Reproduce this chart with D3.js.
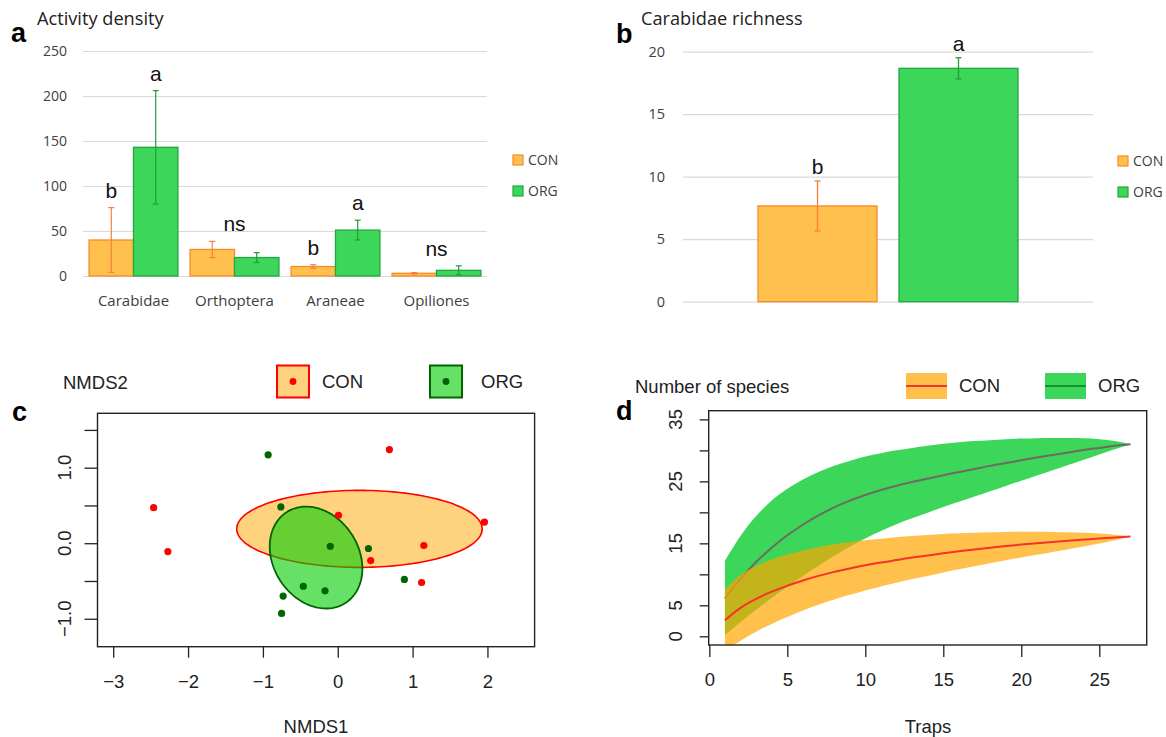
<!DOCTYPE html>
<html>
<head>
<meta charset="utf-8">
<script src="https://cdn.jsdelivr.net/npm/d3@7"></script>
<style>
  body { margin: 0; background: #fff; }
  svg { display: block; }
</style>
</head>
<body>
<svg id="fig" width="1166" height="737"></svg>
<script>
// ---------------- data ----------------
// a: activity density per taxon (mean and standard error)
const taxa = ["Carabidae", "Orthoptera", "Araneae", "Opiliones"];
const systems = ["CON", "ORG"];
const densityCON = [40, 29.5, 10.5, 3];
const densityCONse = [36, 9, 2, 0.8];
const densityORG = [143, 20.5, 51, 6.3];
const densityORGse = [63, 5.5, 11, 5];
const lettersCON = ["b", null, "b", null];
const lettersORG = ["a", null, "a", null];
const lettersShared = [null, "ns", null, "ns"];
const densityTicks = [0, 50, 100, 150, 200, 250];

// b: Carabidae species richness
const richnessMean = [7.66, 18.67];
const richnessSE = [2.0, 0.85];
const richnessLetters = ["b", "a"];
const richnessTicks = [0, 5, 10, 15, 20];

// c: NMDS ordination scores
const conNMDS1 = [-2.46, -2.27, 0.69, 0.01, 1.96, 1.15, 0.44, 1.12];
const conNMDS2 = [0.47, -0.11, 1.24, 0.37, 0.28, -0.03, -0.23, -0.52];
const orgNMDS1 = [-0.93, -0.76, -0.10, 0.41, 0.89, -0.46, -0.17, -0.73, -0.75];
const orgNMDS2 = [1.17, 0.48, -0.04, -0.07, -0.48, -0.57, -0.63, -0.70, -0.93];
const conEllipseCenter = [0.29, 0.19];
const conEllipseCov = [[2.69, 0], [0, 0.26]];
const orgEllipseCenter = [-0.29, -0.19];
const orgEllipseCov = [[0.383, -0.09], [-0.09, 0.455]];
const nmds1Ticks = [-3, -2, -1, 0, 1, 2];
const nmds2Ticks = [-1, -0.5, 0, 0.5, 1, 1.5];
const nmds2Labels = [-1, 0, 1];

// d: species accumulation with confidence bands
const traps = [1, 2, 3, 4, 5, 6, 7, 8, 9, 10, 11, 12, 13, 14, 15, 16, 17, 18, 19, 20, 21, 22, 23, 24, 25, 26, 27];
const conMean  = [2.6, 4.6, 6.05, 7.2, 8.15, 9.0, 9.75, 10.4, 10.95, 11.45, 11.9, 12.3, 12.7, 13.05, 13.4, 13.72, 14.02, 14.3, 14.56, 14.8, 15.02, 15.23, 15.43, 15.61, 15.78, 15.94, 16.1];
const conUpper = [7.5, 9.9, 11.35, 12.4, 13.2, 13.85, 14.4, 14.85, 15.2, 15.5, 15.75, 15.97, 16.17, 16.35, 16.5, 16.62, 16.72, 16.8, 16.85, 16.88, 16.88, 16.85, 16.8, 16.72, 16.6, 16.4, 16.1];
const conLower = [-2.3, -0.7, 0.75, 2.0, 3.1, 4.15, 5.1, 5.95, 6.7, 7.4, 8.05, 8.63, 9.23, 9.75, 10.3, 10.82, 11.32, 11.8, 12.27, 12.72, 13.16, 13.61, 14.06, 14.5, 14.96, 15.48, 16.1];
const orgMean  = [6.1, 9.3, 12.0, 14.3, 16.3, 18.0, 19.5, 20.8, 21.9, 22.8, 23.6, 24.3, 24.9, 25.45, 26.0, 26.5, 27.0, 27.5, 27.95, 28.4, 28.85, 29.25, 29.65, 30.05, 30.4, 30.75, 31.0];
const orgUpper = [12.2, 16.2, 19.4, 21.9, 23.8, 25.3, 26.5, 27.5, 28.3, 29.0, 29.55, 30.0, 30.4, 30.75, 31.05, 31.3, 31.5, 31.65, 31.8, 31.9, 31.95, 32.0, 32.0, 31.95, 31.8, 31.5, 31.0];
const orgLower = [0.2, 2.3, 4.3, 6.2, 8.0, 9.75, 11.4, 13.0, 14.45, 15.8, 17.0, 18.1, 19.05, 19.95, 20.85, 21.7, 22.55, 23.4, 24.25, 25.1, 25.95, 26.8, 27.65, 28.5, 29.35, 30.2, 31.0];
const trapTicks = [0, 5, 10, 15, 20, 25];
const speciesTicks = [0, 5, 10, 15, 20, 25, 30, 35];
const speciesLabels = [0, 5, 15, 25, 35];

// ---------------- styles ----------------
const sans = "'Open Sans', sans-serif";
const arial = "'Liberation Sans', Arial, sans-serif";
const conFill = "#ffc04d", conStroke = "#f98a2a", conErr = "#fb7d3c";
const orgFill = "#3cd75a", orgStroke = "#22a63f", orgErr = "#1f9e3a";
const grid = "#d9d9d9", axisText = "#404040";
const minus = v => String(v).replace("-", "\u2212");

const svg = d3.select("#fig");

function panelLetter(x, y, t) {
  svg.append("text").attr("x", x).attr("y", y).text(t)
    .attr("font-family", arial).attr("font-weight", "bold")
    .attr("font-size", 27).attr("fill", "#000");
}

// ================= a: activity density =================
{
  const g = svg.append("g");
  const y = d3.scaleLinear().domain([0, 250]).range([276, 51]);
  const x = d3.scaleBand().domain(taxa).range([83, 487]).paddingInner(0.12).paddingOuter(0.06);
  const xs = d3.scaleBand().domain(systems).range([0, x.bandwidth()]);

  g.append("g").attr("transform", "translate(83,0)")
    .call(d3.axisLeft(y).tickValues(densityTicks).tickSize(-404).tickPadding(16))
    .call(s => s.select(".domain").remove())
    .call(s => s.selectAll("line").attr("stroke", grid).attr("stroke-width", 1.2))
    .call(s => s.selectAll("text").attr("font-family", sans).attr("font-size", 14).attr("fill", axisText));

  const rows = taxa.flatMap((t, i) => [
    { t, sys: "CON", v: densityCON[i], se: densityCONse[i], letter: lettersCON[i] },
    { t, sys: "ORG", v: densityORG[i], se: densityORGse[i], letter: lettersORG[i] }
  ]);
  const fill = s => s === "CON" ? conFill : orgFill;
  const stroke = s => s === "CON" ? conStroke : orgStroke;
  const err = s => s === "CON" ? conErr : orgErr;
  const cx = d => x(d.t) + xs(d.sys) + xs.bandwidth() / 2;

  g.selectAll("rect.bar").data(rows).join("rect").attr("class", "bar")
    .attr("x", d => x(d.t) + xs(d.sys)).attr("width", xs.bandwidth())
    .attr("y", d => y(d.v)).attr("height", d => y(0) - y(d.v))
    .attr("fill", d => fill(d.sys)).attr("stroke", d => stroke(d.sys)).attr("stroke-width", 1.3);

  const eb = g.selectAll("g.err").data(rows).join("g").attr("class", "err")
    .attr("stroke", d => err(d.sys)).attr("stroke-width", 1.2);
  eb.append("line").attr("x1", cx).attr("x2", cx)
    .attr("y1", d => y(d.v - d.se)).attr("y2", d => y(d.v + d.se));
  eb.append("line").attr("x1", d => cx(d) - 3).attr("x2", d => cx(d) + 3)
    .attr("y1", d => y(d.v + d.se)).attr("y2", d => y(d.v + d.se));
  eb.append("line").attr("x1", d => cx(d) - 3).attr("x2", d => cx(d) + 3)
    .attr("y1", d => y(d.v - d.se)).attr("y2", d => y(d.v - d.se));

  g.selectAll("text.sig").data(rows.filter(d => d.letter)).join("text").attr("class", "sig")
    .attr("x", cx).attr("y", d => y(d.v + d.se) - 10).text(d => d.letter)
    .attr("text-anchor", "middle").attr("font-family", arial).attr("font-size", 21).attr("fill", "#111");

  taxa.forEach((t, i) => {
    if (!lettersShared[i]) return;
    const top = Math.max(densityCON[i] + densityCONse[i], densityORG[i] + densityORGse[i]);
    g.append("text").attr("x", x(t) + x.bandwidth() / 2).attr("y", y(top) - 10)
      .text(lettersShared[i]).attr("text-anchor", "middle")
      .attr("font-family", arial).attr("font-size", 21).attr("fill", "#111");
  });

  g.selectAll("text.cat").data(taxa).join("text").attr("class", "cat")
    .attr("x", d => x(d) + x.bandwidth() / 2).attr("y", 306).text(d => d)
    .attr("text-anchor", "middle").attr("font-family", sans).attr("font-size", 15).attr("fill", axisText);

  systems.forEach((s, i) => {
    g.append("rect").attr("x", 513).attr("y", 155 + i * 31).attr("width", 10).attr("height", 10)
      .attr("fill", fill(s)).attr("stroke", stroke(s)).attr("stroke-width", 1.2);
    g.append("text").attr("x", 528).attr("y", 160 + i * 31).attr("dy", "0.35em").text(s)
      .attr("font-family", sans).attr("font-size", 14).attr("fill", axisText);
  });

  g.append("text").attr("x", 37).attr("y", 24.5).text("Activity density")
    .attr("font-family", sans).attr("font-size", 18.2).attr("fill", "#222");
  panelLetter(11, 42, "a");
}

// ================= b: Carabidae richness =================
{
  const g = svg.append("g");
  const y = d3.scaleLinear().domain([0, 20]).range([301.7, 51.7]);
  const x = d3.scaleBand().domain(systems).range([683, 1093]).paddingInner(0.156).paddingOuter(0.532);

  g.append("g").attr("transform", "translate(683,0)")
    .call(d3.axisLeft(y).tickValues(richnessTicks).tickSize(-410).tickPadding(18))
    .call(s => s.select(".domain").remove())
    .call(s => s.selectAll("line").attr("stroke", grid).attr("stroke-width", 1.2))
    .call(s => s.selectAll("text").attr("font-family", sans).attr("font-size", 14.5).attr("fill", axisText));

  const rows = systems.map((s, i) => ({ s, v: richnessMean[i], se: richnessSE[i], letter: richnessLetters[i] }));
  const cx = d => x(d.s) + x.bandwidth() / 2;

  g.selectAll("rect.bar").data(rows).join("rect").attr("class", "bar")
    .attr("x", d => x(d.s)).attr("width", x.bandwidth())
    .attr("y", d => y(d.v)).attr("height", d => y(0) - y(d.v))
    .attr("fill", d => d.s === "CON" ? conFill : orgFill)
    .attr("stroke", d => d.s === "CON" ? conStroke : orgStroke).attr("stroke-width", 1.3);

  const eb = g.selectAll("g.err").data(rows).join("g").attr("class", "err")
    .attr("stroke", d => d.s === "CON" ? conErr : orgErr).attr("stroke-width", 1.3);
  eb.append("line").attr("x1", cx).attr("x2", cx)
    .attr("y1", d => y(d.v - d.se)).attr("y2", d => y(d.v + d.se));
  eb.append("line").attr("x1", d => cx(d) - 3).attr("x2", d => cx(d) + 3)
    .attr("y1", d => y(d.v + d.se)).attr("y2", d => y(d.v + d.se));
  eb.append("line").attr("x1", d => cx(d) - 3).attr("x2", d => cx(d) + 3)
    .attr("y1", d => y(d.v - d.se)).attr("y2", d => y(d.v - d.se));

  g.selectAll("text.sig").data(rows).join("text").attr("class", "sig")
    .attr("x", cx).attr("y", d => y(d.v + d.se) - 7).text(d => d.letter)
    .attr("text-anchor", "middle").attr("font-family", arial).attr("font-size", 21).attr("fill", "#111");

  systems.forEach((s, i) => {
    g.append("rect").attr("x", 1118).attr("y", 156 + i * 31).attr("width", 10).attr("height", 10)
      .attr("fill", s === "CON" ? conFill : orgFill).attr("stroke", s === "CON" ? conStroke : orgStroke).attr("stroke-width", 1.2);
    g.append("text").attr("x", 1133).attr("y", 161 + i * 31).attr("dy", "0.35em").text(s)
      .attr("font-family", sans).attr("font-size", 14).attr("fill", axisText);
  });

  g.append("text").attr("x", 641).attr("y", 25).text("Carabidae richness")
    .attr("font-family", sans).attr("font-size", 18.2).attr("fill", "#222");
  panelLetter(616, 43, "b");
}

// ================= c: NMDS ordination =================
{
  const g = svg.append("g");
  const x = d3.scaleLinear().domain([-3.21, 2.63]).range([97.5, 534.6]);
  const y = d3.scaleLinear().domain([-1.37, 1.72]).range([646.7, 413.3]);
  const ink = "#222";

  // standard-deviation ellipse from centre and covariance (Cholesky factor)
  function ellipsePath(center, cov) {
    const a = Math.sqrt(cov[0][0]);
    const b = cov[0][1] / a;
    const c = Math.sqrt(cov[1][1] - b * b);
    const pts = d3.range(0, 2 * Math.PI + 0.001, Math.PI / 90).map(t => [
      x(center[0] + a * Math.cos(t)),
      y(center[1] + b * Math.cos(t) + c * Math.sin(t))
    ]);
    return d3.line()(pts) + "Z";
  }

  g.append("path").attr("d", ellipsePath(conEllipseCenter, conEllipseCov))
    .attr("fill", "rgba(255,165,0,0.5)").attr("stroke", "#ff0000").attr("stroke-width", 1.6);
  g.append("path").attr("d", ellipsePath(orgEllipseCenter, orgEllipseCov))
    .attr("fill", "rgba(0,205,0,0.6)").attr("stroke", "#006400").attr("stroke-width", 1.8);

  g.selectAll("circle.con").data(conNMDS1).join("circle").attr("class", "con")
    .attr("cx", d => x(d)).attr("cy", (d, i) => y(conNMDS2[i])).attr("r", 3.6).attr("fill", "#ff0000");
  g.selectAll("circle.org").data(orgNMDS1).join("circle").attr("class", "org")
    .attr("cx", d => x(d)).attr("cy", (d, i) => y(orgNMDS2[i])).attr("r", 3.6).attr("fill", "#006400");

  g.append("rect").attr("x", 97.5).attr("y", 413.3).attr("width", 534.6 - 97.5).attr("height", 646.7 - 413.3)
    .attr("fill", "none").attr("stroke", ink).attr("stroke-width", 1.4);

  g.append("g").attr("transform", "translate(0,646.7)")
    .call(d3.axisBottom(x).tickValues(nmds1Ticks).tickSize(11).tickPadding(17).tickFormat(minus))
    .call(s => s.select(".domain").remove())
    .call(s => s.selectAll("line").attr("stroke", ink).attr("stroke-width", 1.3))
    .call(s => s.selectAll("text").attr("font-family", arial).attr("font-size", 18.5).attr("fill", ink));

  g.append("g").attr("transform", "translate(97.5,0)")
    .call(d3.axisLeft(y).tickValues(nmds2Ticks).tickSize(13).tickFormat(""))
    .call(s => s.select(".domain").remove())
    .call(s => s.selectAll("line").attr("stroke", ink).attr("stroke-width", 1.3));
  g.selectAll("text.ylab").data(nmds2Labels).join("text").attr("class", "ylab")
    .attr("transform", d => `translate(65,${y(d)}) rotate(-90)`).attr("dy", "0.35em")
    .attr("text-anchor", "middle").text(d => minus(d.toFixed(1)))
    .attr("font-family", arial).attr("font-size", 18.5).attr("fill", ink);

  g.append("text").attr("x", 316).attr("y", 727).attr("dy", "0.35em").attr("text-anchor", "middle")
    .text("NMDS1").attr("font-family", arial).attr("font-size", 18.5).attr("fill", ink);
  g.append("text").attr("x", 63).attr("y", 383).attr("dy", "0.35em")
    .text("NMDS2").attr("font-family", arial).attr("font-size", 18.5).attr("fill", ink);

  // legend
  const leg = [
    { s: "CON", x: 277, fill: "rgba(255,165,0,0.5)", stroke: "#ff0000", dot: "#ff0000", tx: 322 },
    { s: "ORG", x: 430, fill: "rgba(0,205,0,0.6)", stroke: "#006400", dot: "#006400", tx: 481 }
  ];
  leg.forEach(l => {
    g.append("rect").attr("x", l.x).attr("y", 365.5).attr("width", 32).attr("height", 32)
      .attr("fill", l.fill).attr("stroke", l.stroke).attr("stroke-width", 2);
    g.append("circle").attr("cx", l.x + 16).attr("cy", 381.5).attr("r", 3.4).attr("fill", l.dot);
    g.append("text").attr("x", l.tx).attr("y", 381.5).attr("dy", "0.35em").text(l.s)
      .attr("font-family", arial).attr("font-size", 18.5).attr("fill", ink);
  });

  panelLetter(12, 421, "c");
}

// ================= d: species accumulation =================
{
  const g = svg.append("g");
  const x = d3.scaleLinear().domain([-0.04, 28.04]).range([708.7, 1146.7]);
  const y = d3.scaleLinear().domain([-1.4, 36.4]).range([645, 410.7]);
  const ink = "#222";

  g.append("clipPath").attr("id", "clipD").append("rect")
    .attr("x", 708.7).attr("y", 410.7).attr("width", 1146.7 - 708.7).attr("height", 645 - 410.7);
  const plot = g.append("g").attr("clip-path", "url(#clipD)");

  const band = (lo, hi) => d3.area().curve(d3.curveMonotoneX)
    .x((d, i) => x(traps[i])).y0((d, i) => y(lo[i])).y1((d, i) => y(hi[i]))(traps);
  const line = m => d3.line().curve(d3.curveMonotoneX)
    .x((d, i) => x(traps[i])).y((d, i) => y(m[i]))(traps);

  plot.append("path").attr("d", band(orgLower, orgUpper)).attr("fill", "#3bd65a");
  plot.append("path").attr("d", line(orgMean)).attr("fill", "none").attr("stroke", "#6e6c5e").attr("stroke-width", 2);
  plot.append("path").attr("d", band(conLower, conUpper)).attr("fill", "rgba(255,165,0,0.7)");
  plot.append("path").attr("d", line(conMean)).attr("fill", "none").attr("stroke", "#f5332a").attr("stroke-width", 2);

  g.append("rect").attr("x", 708.7).attr("y", 410.7).attr("width", 1146.7 - 708.7).attr("height", 645 - 410.7)
    .attr("fill", "none").attr("stroke", ink).attr("stroke-width", 1.4);

  g.append("g").attr("transform", "translate(0,645)")
    .call(d3.axisBottom(x).tickValues(trapTicks).tickSize(12).tickPadding(16))
    .call(s => s.select(".domain").remove())
    .call(s => s.selectAll("line").attr("stroke", ink).attr("stroke-width", 1.3))
    .call(s => s.selectAll("text").attr("font-family", arial).attr("font-size", 18.5).attr("fill", ink));

  g.append("g").attr("transform", "translate(708.7,0)")
    .call(d3.axisLeft(y).tickValues(speciesTicks).tickSize(9).tickFormat(""))
    .call(s => s.select(".domain").remove())
    .call(s => s.selectAll("line").attr("stroke", ink).attr("stroke-width", 1.3));
  g.selectAll("text.ylab").data(speciesLabels).join("text").attr("class", "ylab")
    .attr("transform", d => `translate(676,${y(d)}) rotate(-90)`).attr("dy", "0.35em")
    .attr("text-anchor", "middle").text(d => d)
    .attr("font-family", arial).attr("font-size", 18.5).attr("fill", ink);

  g.append("text").attr("x", 928).attr("y", 727).attr("dy", "0.35em").attr("text-anchor", "middle")
    .text("Traps").attr("font-family", arial).attr("font-size", 18.5).attr("fill", ink);
  g.append("text").attr("x", 635).attr("y", 387).attr("dy", "0.35em")
    .text("Number of species").attr("font-family", arial).attr("font-size", 18.5).attr("fill", ink);

  const leg = [
    { s: "CON", x: 906, fill: "rgba(255,165,0,0.7)", line: "#f5332a", tx: 959 },
    { s: "ORG", x: 1045, fill: "#3bd65a", line: "#11922c", tx: 1098 }
  ];
  leg.forEach(l => {
    g.append("rect").attr("x", l.x).attr("y", 373).attr("width", 41).attr("height", 26).attr("fill", l.fill);
    g.append("line").attr("x1", l.x).attr("x2", l.x + 41).attr("y1", 386).attr("y2", 386)
      .attr("stroke", l.line).attr("stroke-width", 2);
    g.append("text").attr("x", l.tx).attr("y", 386).attr("dy", "0.35em").text(l.s)
      .attr("font-family", arial).attr("font-size", 18.5).attr("fill", ink);
  });

  panelLetter(616, 420, "d");
}
</script>
</body>
</html>
